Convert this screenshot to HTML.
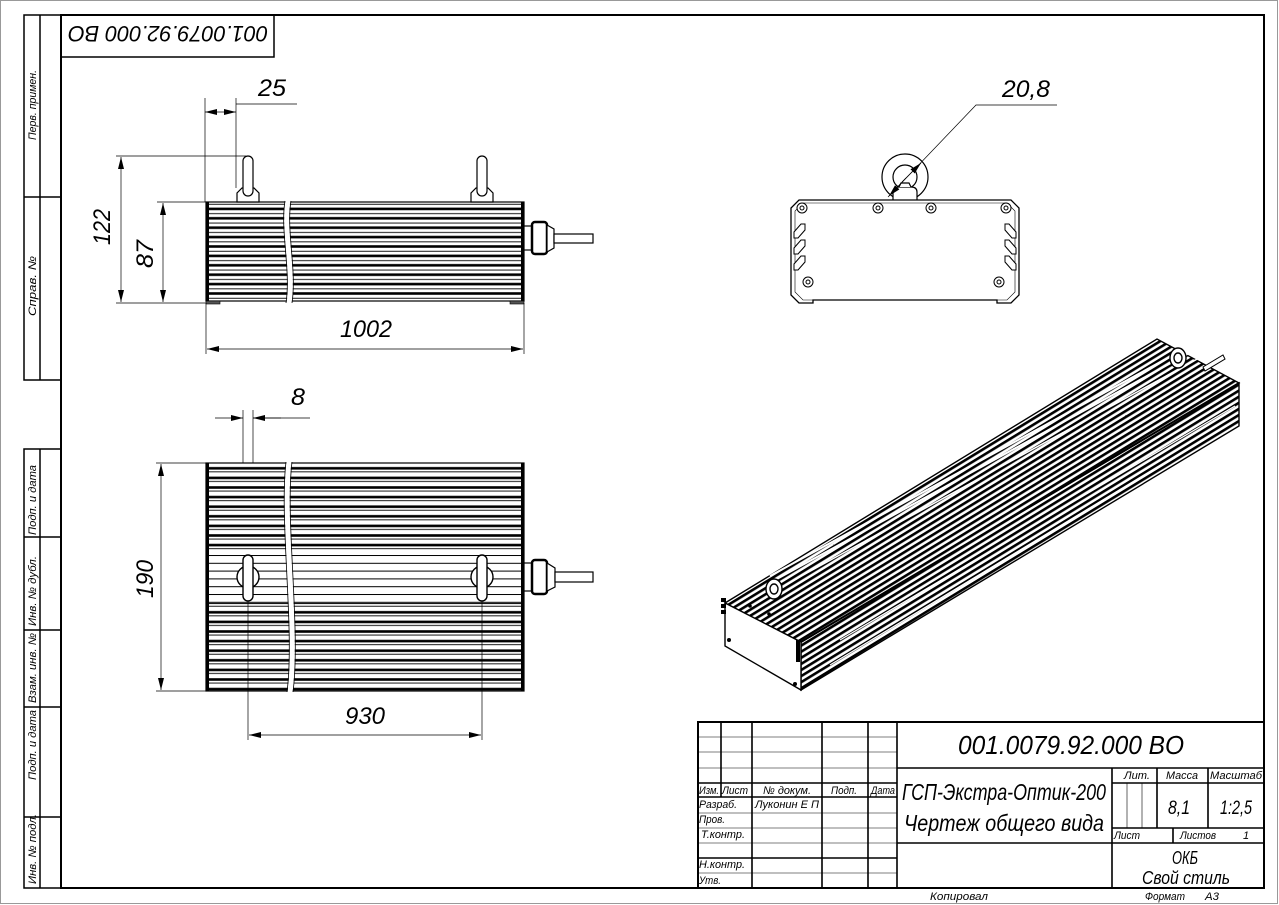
<!DOCTYPE html>
<html><head><meta charset="utf-8"><style>
html,body{margin:0;padding:0;background:#fff}
svg{display:block}
text{font-family:"Liberation Sans","DejaVu Sans",sans-serif;font-style:italic;fill:#000}
</style></head><body>
<svg width="1279" height="905" viewBox="0 0 1279 905" xmlns="http://www.w3.org/2000/svg">
<defs>
<marker id="ar" viewBox="0 0 12 6" refX="12" refY="3" markerWidth="12" markerHeight="6" orient="auto-start-reverse" markerUnits="userSpaceOnUse"><path d="M0,0 L12,3 L0,6 z" fill="#000"/></marker>
<pattern id="f1" patternUnits="userSpaceOnUse" x="0" y="202" width="20" height="9.4"><rect x="0" y="0" width="20" height="9.4" fill="#fff"/><rect x="0" y="5.6" width="20" height="2.6" fill="#000"/><rect x="0" y="1.8" width="20" height="0.9" fill="#000"/></pattern>
<pattern id="f2" patternUnits="userSpaceOnUse" x="0" y="463" width="20" height="9.6"><rect x="0" y="0" width="20" height="9.6" fill="#fff"/><rect x="0" y="4" width="20" height="2.6" fill="#000"/><rect x="0" y="8.4" width="20" height="0.9" fill="#000"/></pattern>
<pattern id="f3" patternUnits="userSpaceOnUse" x="0" y="555" width="20" height="7.8"><rect x="0" y="0" width="20" height="7.8" fill="#fff"/><rect x="0" y="0" width="20" height="1" fill="#000"/></pattern>
<pattern id="fi" patternUnits="userSpaceOnUse" width="40" height="5.2" patternTransform="rotate(-31.4)"><rect width="40" height="5.2" fill="#fff"/><rect y="0" width="40" height="2.6" fill="#000"/></pattern>
</defs>

<!-- page border -->
<rect x="0.5" y="0.5" width="1277" height="903" fill="none" stroke="#999" stroke-width="1"/>
<!-- main frame -->
<rect x="61" y="15" width="1203" height="873" fill="none" stroke="#000" stroke-width="2"/>
<!-- left top strip -->
<g fill="none" stroke="#000" stroke-width="1.5">
<path d="M61,15 H24 V380 H61 M40,15 V380 M24,197 H61"/>
<path d="M61,449 H24 V888 H61 M40,449 V888 M24,537 H61 M24,630 H61 M24,707 H61 M24,817 H61"/>
</g>
<g font-size="11">
<text transform="translate(36,140) rotate(-90)" textLength="70" lengthAdjust="spacingAndGlyphs">Перв. примен.</text>
<text transform="translate(36,316) rotate(-90)" textLength="60" lengthAdjust="spacingAndGlyphs">Справ. №</text>
<text transform="translate(36,535) rotate(-90)" textLength="70" lengthAdjust="spacingAndGlyphs">Подп. и дата</text>
<text transform="translate(36,626) rotate(-90)" textLength="70" lengthAdjust="spacingAndGlyphs">Инв. № дубл.</text>
<text transform="translate(36,703) rotate(-90)" textLength="70" lengthAdjust="spacingAndGlyphs">Взам. инв. №</text>
<text transform="translate(36,780) rotate(-90)" textLength="70" lengthAdjust="spacingAndGlyphs">Подп. и дата</text>
<text transform="translate(36,884) rotate(-90)" textLength="70" lengthAdjust="spacingAndGlyphs">Инв. № подл.</text>
</g>
<!-- upside-down stamp -->
<rect x="61" y="15" width="213" height="42" fill="none" stroke="#000" stroke-width="1.5"/>
<text transform="translate(268,26) rotate(180)" font-size="22" textLength="200" lengthAdjust="spacingAndGlyphs">001.0079.92.000 BO</text>

<!-- ============ SIDE VIEW ============ -->
<g stroke="#000">
<rect x="206" y="202" width="318" height="99" fill="url(#f1)" stroke-width="1.2"/>
<rect x="206" y="202" width="3" height="99" fill="#000" stroke="none"/>
<rect x="521" y="202" width="3" height="99" fill="#000" stroke="none"/>
<rect x="206" y="301" width="14" height="3" fill="#555" stroke-width="0.6"/>
<rect x="510" y="301" width="14" height="3" fill="#555" stroke-width="0.6"/>
<path d="M288,200 C283,230 294,270 289,304" stroke="#fff" stroke-width="5" fill="none"/>
<path d="M285,201 C280,230 291,270 286,303 M291,201 C286,230 297,270 292,303" stroke-width="0.8" fill="none"/>
<!-- lugs -->
<g fill="#fff" stroke-width="1.2">
<path d="M237,202 V193 L242,188 H254 L259,193 V202 Z"/>
<rect x="243" y="156" width="10" height="40" rx="5"/>
<path d="M471,202 V193 L476,188 H488 L493,193 V202 Z"/>
<rect x="477" y="156" width="10" height="40" rx="5"/>
</g>
<!-- gland -->
<g fill="#fff" stroke-width="1.2">
<rect x="524" y="226" width="8" height="24"/>
<rect x="532" y="222" width="15" height="32" rx="3" fill="#fff" stroke-width="2.5"/>
<path d="M547,225 L554,229 V248 L547,252 Z"/>
<rect x="554" y="234" width="39" height="9"/>
</g>
</g>
<!-- side view dims -->
<g stroke="#000" stroke-width="0.7" fill="none">
<path d="M205,98 V202 M236,98 V188"/>
<path d="M205,112 H236" marker-start="url(#ar)" marker-end="url(#ar)"/>
<path d="M236,104 H297"/>
<path d="M116,156 H246 M116,303 H206 M157,202 H206"/>
<path d="M121,157 V302" marker-start="url(#ar)" marker-end="url(#ar)"/>
<path d="M163,203 V302" marker-start="url(#ar)" marker-end="url(#ar)"/>
<path d="M206,303 V354 M524,303 V354"/>
<path d="M207,349 H523" marker-start="url(#ar)" marker-end="url(#ar)"/>
</g>
<text x="258" y="96" font-size="24" textLength="28" lengthAdjust="spacingAndGlyphs">25</text>
<text transform="translate(110,245) rotate(-90)" font-size="24" textLength="36" lengthAdjust="spacingAndGlyphs">122</text>
<text transform="translate(153,268) rotate(-90)" font-size="24" textLength="28" lengthAdjust="spacingAndGlyphs">87</text>
<text x="340" y="337" font-size="24" textLength="52" lengthAdjust="spacingAndGlyphs">1002</text>

<!-- ============ TOP VIEW ============ -->
<g stroke="#000">
<rect x="206" y="463" width="318" height="228" fill="url(#f2)" stroke-width="1.2"/>
<rect x="207" y="553" width="316" height="50" fill="url(#f3)" stroke="none"/>
<rect x="206" y="463" width="3" height="228" fill="#000" stroke="none"/>
<rect x="521" y="463" width="3" height="228" fill="#000" stroke="none"/>
<path d="M289,461 C282,520 298,630 290,693" stroke="#fff" stroke-width="5" fill="none"/>
<path d="M286,462 C279,520 295,630 287,692 M292,462 C285,520 301,630 293,692" stroke-width="0.8" fill="none"/>
<g fill="#fff" stroke-width="1.4">
<circle cx="248" cy="577" r="11"/>
<rect x="243" y="555" width="10" height="46" rx="5"/>
<circle cx="482" cy="577" r="11"/>
<rect x="477" y="555" width="10" height="46" rx="5"/>
</g>
<g fill="#fff" stroke-width="1.2">
<rect x="524" y="563" width="8" height="28"/>
<rect x="532" y="560" width="15" height="34" rx="3" stroke-width="2.5"/>
<path d="M547,563 L555,568 V587 L547,591 Z"/>
<rect x="555" y="572" width="38" height="10"/>
</g>
</g>
<g stroke="#000" stroke-width="0.7" fill="none">
<path d="M243,410 V463 M253,410 V463 M248,601 V740 M482,601 V740"/>
<path d="M215,418 H243" marker-end="url(#ar)"/>
<path d="M281,418 H253" marker-end="url(#ar)"/>
<path d="M253,418 H310"/>
<path d="M156,463 H206 M156,691 H206"/>
<path d="M161,464 V690" marker-start="url(#ar)" marker-end="url(#ar)"/>
<path d="M249,735 H481" marker-start="url(#ar)" marker-end="url(#ar)"/>
</g>
<text x="291" y="405" font-size="24" textLength="14" lengthAdjust="spacingAndGlyphs">8</text>
<text transform="translate(153,598) rotate(-90)" font-size="24" textLength="38" lengthAdjust="spacingAndGlyphs">190</text>
<text x="345" y="724" font-size="24" textLength="40" lengthAdjust="spacingAndGlyphs">930</text>

<!-- ============ FRONT VIEW ============ -->
<g stroke="#000" fill="#fff" stroke-width="1.2">
<circle cx="905" cy="177" r="23"/>
<circle cx="905" cy="177" r="12"/>
<path d="M893,201 V192 Q893,187 899,187 H911 Q917,187 917,192 V201 Z"/>
<path d="M899,187 L901,183 H909 L911,187"/>
<path d="M799,200 H1011 L1019,208 V295 L1011,303 H997 V300 H813 V303 H799 L791,295 V208 Z" stroke-width="1.3"/>
<path d="M803,203 H1007 L1015,211 V292 L1007,300 H803 L795,292 V211 Z" stroke-width="0.6" fill="none"/>
</g>
<g stroke="#000" fill="#fff" stroke-width="1">
<circle cx="802" cy="208" r="5"/><circle cx="802" cy="208" r="2"/>
<circle cx="878" cy="208" r="5"/><circle cx="878" cy="208" r="2"/>
<circle cx="931" cy="208" r="5"/><circle cx="931" cy="208" r="2"/>
<circle cx="1006" cy="208" r="5"/><circle cx="1006" cy="208" r="2"/>
<circle cx="808" cy="282" r="5"/><circle cx="808" cy="282" r="2"/>
<circle cx="999" cy="282" r="5"/><circle cx="999" cy="282" r="2"/>
<path d="M794,232 L801,224 H805 V230 L798,238 H794 Z M794,248 L801,240 H805 V246 L798,254 H794 Z M794,264 L801,256 H805 V262 L798,270 H794 Z"/>
<path d="M1016,232 L1009,224 H1005 V230 L1012,238 H1016 Z M1016,248 L1009,240 H1005 V246 L1012,254 H1016 Z M1016,264 L1009,256 H1005 V262 L1012,270 H1016 Z"/>
</g>
<g stroke="#000" stroke-width="0.7" fill="none">
<path d="M888,197 L976,105 H1057"/>
<path d="M906,178 L889,196" marker-end="url(#ar)"/>
<path d="M902,182 L921,163" marker-end="url(#ar)"/>
</g>
<text x="1002" y="97" font-size="24" textLength="48" lengthAdjust="spacingAndGlyphs">20,8</text>

<!-- ============ ISOMETRIC ============ -->
<g stroke="#000" stroke-width="1.4">
<polygon points="725,603 1157,339 1239,383 801,642" fill="url(#fi)"/>
<polygon points="801,642 1239,383 1239,426 801,690" fill="url(#fi)"/>
<polygon points="725,603 801,642 801,690 725,646" fill="#fff"/>
<path d="M770,576 L1195,343 M775,580 L1200,347" stroke="#fff" stroke-width="2" fill="none"/>
<path d="M785,585 L1210,352" stroke="#fff" stroke-width="1.5" fill="none"/>
<path d="M840,640 L1235,406 M830,665 L1235,420" stroke="#fff" stroke-width="1.2" fill="none"/>
<path d="M801,642 L1239,383" stroke="#000" stroke-width="2" fill="none"/>
<ellipse cx="774" cy="589" rx="8" ry="10" fill="#fff"/>
<ellipse cx="774" cy="589" rx="4" ry="5" fill="#fff"/>
<ellipse cx="1178" cy="358" rx="8" ry="10" fill="#fff"/>
<ellipse cx="1178" cy="358" rx="4" ry="5" fill="#fff"/>
<path d="M1203,367 L1223,355 L1225,359 L1205,371 Z" fill="#fff" stroke-width="1"/>
</g>
<g fill="#000">
<circle cx="729" cy="640" r="2"/><circle cx="795" cy="684" r="2"/>
<rect x="721" y="598" width="5" height="4"/><rect x="721" y="604" width="5" height="4"/><rect x="721" y="610" width="5" height="4"/>
<rect x="796" y="640" width="4" height="22"/>
<circle cx="750" cy="606" r="1.8"/><circle cx="769" cy="614" r="1.8"/>
</g>

<!-- ============ TITLE BLOCK ============ -->
<g stroke="#000" fill="none">
<rect x="698" y="722" width="566" height="166" stroke-width="2"/>
<path d="M721,722 V797 M752,722 V888 M822,722 V888 M868,722 V888 M897,722 V888" stroke-width="1.6"/>
<path d="M698,737 H897 M698,752 H897 M698,768 H897 M698,813 H897 M698,828 H897 M698,843 H897 M698,873 H897" stroke-width="0.6"/>
<path d="M698,783 H897 M698,797 H897 M698,858 H897" stroke-width="1.6"/>
<path d="M897,768 H1264 M897,843 H1264 M1112,768 V888 M1112,783 H1264 M1112,828 H1264 M1157,768 V828 M1208,768 V828 M1173,828 V843" stroke-width="1.6"/>
<path d="M1127,783 V828 M1142,783 V828" stroke-width="0.6"/>
</g>
<g font-size="11">
<text x="699" y="794" textLength="20" lengthAdjust="spacingAndGlyphs">Изм.</text>
<text x="722" y="794" textLength="26" lengthAdjust="spacingAndGlyphs">Лист</text>
<text x="763" y="794" textLength="48" lengthAdjust="spacingAndGlyphs">№ докум.</text>
<text x="831" y="794" textLength="26" lengthAdjust="spacingAndGlyphs">Подп.</text>
<text x="871" y="794" textLength="24" lengthAdjust="spacingAndGlyphs">Дата</text>
<text x="699" y="808" textLength="38" lengthAdjust="spacingAndGlyphs">Разраб.</text>
<text x="755" y="808" textLength="64" lengthAdjust="spacingAndGlyphs">Луконин Е П</text>
<text x="699" y="823" textLength="26" lengthAdjust="spacingAndGlyphs">Пров.</text>
<text x="701" y="838" textLength="44" lengthAdjust="spacingAndGlyphs">Т.контр.</text>
<text x="699" y="868" textLength="46" lengthAdjust="spacingAndGlyphs">Н.контр.</text>
<text x="699" y="884" textLength="22" lengthAdjust="spacingAndGlyphs">Утв.</text>
<text x="1124" y="779" textLength="26" lengthAdjust="spacingAndGlyphs">Лит.</text>
<text x="1166" y="779" textLength="32" lengthAdjust="spacingAndGlyphs">Масса</text>
<text x="1210" y="779" textLength="52" lengthAdjust="spacingAndGlyphs">Масштаб</text>
<text x="1114" y="839" textLength="26" lengthAdjust="spacingAndGlyphs">Лист</text>
<text x="1180" y="839" textLength="36" lengthAdjust="spacingAndGlyphs">Листов</text>
<text x="1243" y="839">1</text>
<text x="930" y="900" textLength="58" lengthAdjust="spacingAndGlyphs">Копировал</text>
<text x="1145" y="900" textLength="40" lengthAdjust="spacingAndGlyphs">Формат</text>
<text x="1205" y="900" textLength="14" lengthAdjust="spacingAndGlyphs">A3</text>
</g>
<text x="958" y="754" font-size="26" textLength="226" lengthAdjust="spacingAndGlyphs">001.0079.92.000 BO</text>
<text x="902" y="800" font-size="23" textLength="204" lengthAdjust="spacingAndGlyphs">ГСП-Экстра-Оптик-200</text>
<text x="904" y="831" font-size="23" textLength="200" lengthAdjust="spacingAndGlyphs">Чертеж общего вида</text>
<text x="1168" y="814" font-size="19" textLength="22" lengthAdjust="spacingAndGlyphs">8,1</text>
<text x="1220" y="814" font-size="19" textLength="32" lengthAdjust="spacingAndGlyphs">1:2,5</text>
<text x="1172" y="864" font-size="18" textLength="26" lengthAdjust="spacingAndGlyphs">ОКБ</text>
<text x="1142" y="884" font-size="18" textLength="88" lengthAdjust="spacingAndGlyphs">Свой стиль</text>
</svg>
</body></html>
